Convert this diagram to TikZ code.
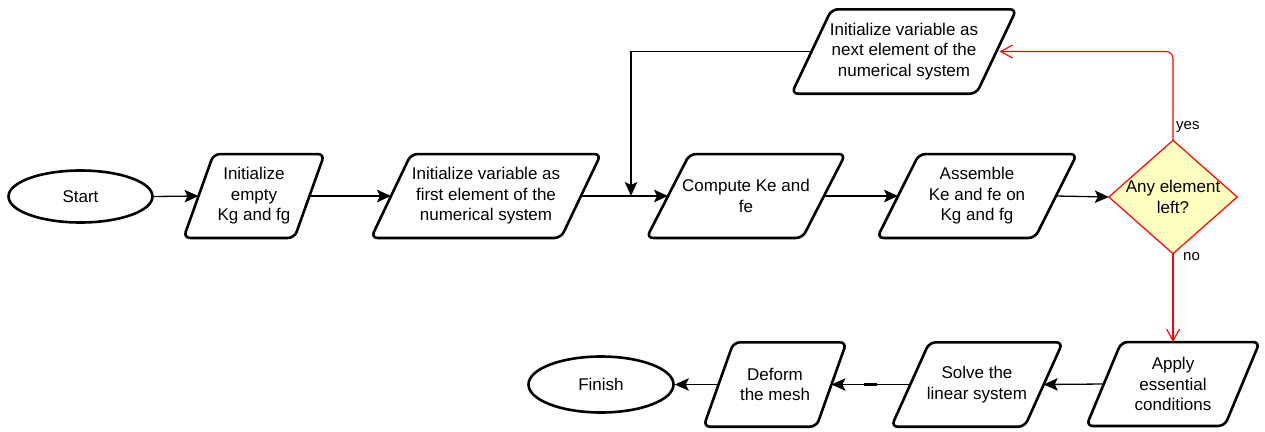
\documentclass[tikz,border=0pt]{standalone}
\usepackage{fontspec}
\setmainfont{Liberation Sans}
\usetikzlibrary{arrows.meta,backgrounds,calc,shapes.geometric}

\definecolor{decfill}{HTML}{FFFFC0}
\definecolor{decline}{HTML}{FF0000}

\tikzset{
  boxtext/.style={font=\fontsize{17}{20.5}\selectfont, align=center, inner sep=0pt},
  edgetext/.style={font=\fontsize{15}{18}\selectfont, inner sep=0pt, anchor=west},
  terminal/.style={boxtext, ellipse, draw, line width=2.6pt},
  paraline/.style={line width=2.6pt, rounded corners=6.5pt, line join=round},
  flow/.style={line width=1.3pt, -{Stealth[length=14pt,width=12.5pt,inset=3pt]}},
  redflow/.style={draw=decline, line width=1.1pt, rounded corners=7pt,
    -{Straight Barb[length=12pt,width=13pt]}},
  tickmark/.style={line width=2.6pt},
}

% slanted process box: name, centre x, centre y, mid-height width, height, slant, text
\newcommand\parabox[7]{%
  \node[boxtext, minimum width=#4, minimum height=#5] (#1) at (#2,#3) {#7};
  \draw[paraline] (#1.north) -- ([xshift=#6/2]#1.north east)
    -- ([xshift=-#6/2]#1.south east) -- ([xshift=-#6/2]#1.south west)
    -- ([xshift=#6/2]#1.north west) -- cycle;
}

% short thick mark in the middle of a straight connector
\newcommand\midtick[2]{%
  \draw[tickmark] ($(#1)!.5!(#2)$) ++(-6.5,0) -- ++(13,0);
}

\begin{document}
\begin{tikzpicture}[x=1pt, y=-1pt]
  \useasboundingbox (0,0) rectangle (1265,431);

  % terminals
  \node[terminal, minimum width=144, minimum height=52] (start) at (80.5,196.5) {Start};
  \node[terminal, minimum width=145, minimum height=56] (finish) at (601,384.5) {Finish};

  % process boxes
  \parabox{init1}{254}{196}{110.5}{83.5}{30}{Initialize\\empty\\Kg and fg}
  \parabox{init2}{486}{196}{189.5}{83.5}{40}{Initialize variable as\\first element of the\\numerical system}
  \parabox{compute}{746}{196}{155.5}{83.5}{43}{Compute Ke and\\fe}
  \parabox{assemble}{977}{196}{157.5}{83.5}{42}{Assemble\\Ke and fe on\\Kg and fg}
  \parabox{next}{904}{51.5}{184.5}{84}{40}{Initialize variable as\\next element of the\\numerical system}
  \parabox{apply}{1173}{384}{138}{83.5}{35}{Apply\\essential\\conditions}
  \parabox{solve}{977}{384.5}{133}{84}{38}{Solve the\\linear system}
  \parabox{deform}{775}{384.5}{112.5}{84}{30}{Deform\\the mesh}

  % decision
  \node[boxtext, minimum width=128, minimum height=113] (dec) at (1173,197) {Any element\\left?};
  \begin{scope}[on background layer]
    \filldraw[fill=decfill, draw=decline, line width=1.2pt, line join=miter]
      (dec.north) -- (dec.east) -- (dec.south) -- (dec.west) -- cycle;
  \end{scope}

  % loop-back junction on the main line
  \coordinate (merge) at (631,196);

  % main flow
  \draw[flow] (start.east) -- (init1.west);
  \draw[flow] (init1.east) -- (init2.west);
  \midtick{init1.east}{init2.west}
  \draw[flow] (init2.east) -- (compute.west);
  \midtick{init2.east}{compute.west}
  \draw[flow] (compute.east) -- (assemble.west);
  \midtick{compute.east}{assemble.west}
  \draw[flow] (assemble.east) -- (dec.west);

  % decision branches
  \draw[redflow] (dec.north) |- ([xshift=3pt]next.east);
  \node[edgetext] (yeslabel) at (1176,127) {yes};
  \draw[redflow] (dec.south) -- (apply.north);
  \node[edgetext] (nolabel) at (1183,257) {no};

  % loop back to the compute step
  \draw[flow] (next.west) -| (merge);

  % bottom row
  \draw[flow] (apply.west) -- (solve.east);
  \draw[flow] (solve.west) -- (deform.east);
  \midtick{solve.west}{deform.east}
  \draw[flow] (deform.west) -- (finish.east);
\end{tikzpicture}
\end{document}
